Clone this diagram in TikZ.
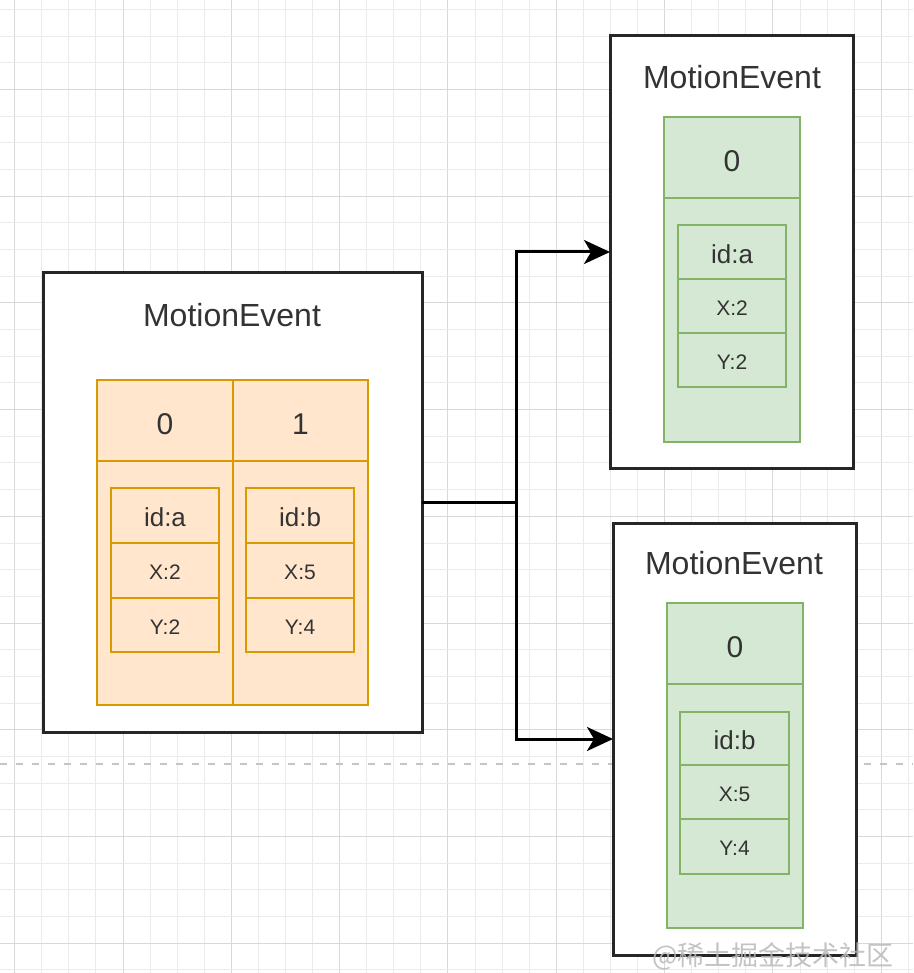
\documentclass[tikz,border=0pt]{standalone}
\usepackage{fontspec}
\setmainfont{Liberation Sans}
\newfontfamily\cjkfont{Noto Sans CJK SC}
\usetikzlibrary{arrows.meta}
\definecolor{orfill}{HTML}{FFE6CC}
\definecolor{ordraw}{HTML}{D79B00}
\definecolor{grfill}{HTML}{D5E8D4}
\definecolor{grdraw}{HTML}{82B366}
\definecolor{gridminor}{HTML}{EBEBEB}
\definecolor{gridmajor}{HTML}{D8D8D8}
\definecolor{dashgray}{HTML}{C4C4C4}
\newcommand{\dnshift}[2]{\raisebox{-#1pt}[\height][\depth]{#2}}
\begin{document}
\begin{tikzpicture}[x=1pt,y=-1pt,
  gminor/.style={draw=gridminor, line width=1pt},
  gmajor/.style={draw=gridmajor, line width=1pt},
  outerbox/.style={draw=black!85, line width=3pt, fill=white, anchor=north west, inner sep=0pt, outer sep=0pt},
  titletext/.style={inner sep=0pt, text=black!80, font=\fontsize{32}{38}\selectfont},
  orcell/.style={draw=ordraw, line width=2pt, fill=orfill, anchor=north west, inner sep=0pt, outer sep=0pt, text=black!80},
  grcell/.style={draw=grdraw, line width=2pt, fill=grfill, anchor=north west, inner sep=0pt, outer sep=0pt, text=black!80},
  headtext/.style={font=\fontsize{30}{36}\selectfont},
  idtext/.style={font=\fontsize{26}{31}\selectfont},
  valtext/.style={font=\fontsize{21}{25}\selectfont},
  conn/.style={draw=black, line width=3pt, -{Stealth[length=26pt,width=24pt,inset=7pt]}},
]
\useasboundingbox (0,0) rectangle (913,973);
\fill[white] (0,0) rectangle (913,973);
% grid
\foreach \k in {0,...,33} {
  \pgfmathsetmacro\gx{14.7+27.08*\k}
  \pgfmathtruncatemacro\gm{mod(\k,4)}
  \ifnum\gm=0 \draw[gmajor] (\gx,0) -- (\gx,973); \else \draw[gminor] (\gx,0) -- (\gx,973); \fi
}
\foreach \j in {0,...,36} {
  \pgfmathsetmacro\gy{9.6+26.67*\j}
  \pgfmathtruncatemacro\gm{mod(\j,4)}
  \ifnum\gm=3 \draw[gmajor] (0,\gy) -- (913,\gy); \else \draw[gminor] (0,\gy) -- (913,\gy); \fi
}
% dashed page line
\draw[dashgray, line width=1.3pt, dash pattern=on 7pt off 9pt] (0,764) -- (913,764);

% ---------- left MotionEvent ----------
\node[outerbox, minimum width=379pt, minimum height=459pt] (L) at (43,273) {};
\node[titletext] (Lt) at (232,315) {MotionEvent};
\node[orcell, minimum width=136pt, minimum height=244pt] (Lb0) at (97,461) {};
\node[orcell, minimum width=135pt, minimum height=244pt] (Lb1) at (233,461) {};
\node[orcell, headtext, minimum width=136pt, minimum height=81pt] (Lh0) at (97,380) {\dnshift{4}{0}};
\node[orcell, headtext, minimum width=135pt, minimum height=81pt] (Lh1) at (233,380) {\dnshift{4}{1}};
\node[orcell, idtext, minimum width=108pt, minimum height=55pt] (La1) at (111,488) {\dnshift{2}{id:a}};
\node[orcell, valtext, minimum width=108pt, minimum height=55pt] (La2) at (111,543) {\dnshift{2}{X:2}};
\node[orcell, valtext, minimum width=108pt, minimum height=54pt] (La3) at (111,598) {\dnshift{2}{Y:2}};
\node[orcell, idtext, minimum width=108pt, minimum height=55pt] (Lb1a) at (246,488) {\dnshift{2}{id:b}};
\node[orcell, valtext, minimum width=108pt, minimum height=55pt] (Lb1b) at (246,543) {\dnshift{2}{X:5}};
\node[orcell, valtext, minimum width=108pt, minimum height=54pt] (Lb1c) at (246,598) {\dnshift{2}{Y:4}};

% ---------- top right MotionEvent ----------
\node[outerbox, minimum width=243pt, minimum height=432pt] (TR) at (610,36) {};
\node[titletext] (TRt) at (732,77) {MotionEvent};
\node[grcell, minimum width=136pt, minimum height=244pt] (Tb) at (664,198) {};
\node[grcell, headtext, minimum width=136pt, minimum height=81pt] (Th) at (664,117) {\dnshift{4}{0}};
\node[grcell, idtext, minimum width=108pt, minimum height=54pt] (Ta1) at (678,225) {\dnshift{2}{id:a}};
\node[grcell, valtext, minimum width=108pt, minimum height=54pt] (Ta2) at (678,279) {\dnshift{2}{X:2}};
\node[grcell, valtext, minimum width=108pt, minimum height=54pt] (Ta3) at (678,333) {\dnshift{2}{Y:2}};

% ---------- bottom right MotionEvent ----------
\node[outerbox, minimum width=243pt, minimum height=432pt] (BR) at (613,523) {};
\node[titletext] (BRt) at (734,563) {MotionEvent};
\node[grcell, minimum width=136pt, minimum height=244pt] (Bb) at (667,684) {};
\node[grcell, headtext, minimum width=136pt, minimum height=81pt] (Bh) at (667,603) {\dnshift{4}{0}};
\node[grcell, idtext, minimum width=109pt, minimum height=53pt] (Ba1) at (680,712) {\dnshift{2}{id:b}};
\node[grcell, valtext, minimum width=109pt, minimum height=54pt] (Ba2) at (680,765) {\dnshift{2}{X:5}};
\node[grcell, valtext, minimum width=109pt, minimum height=55pt] (Ba3) at (680,819) {\dnshift{2}{Y:4}};

% ---------- connectors ----------
\coordinate (J) at (516,502.5);
\draw[conn] (L.east) -- (J) |- (TR.west);
\draw[conn] (L.east) -- (J) |- (BR.west);

% ---------- watermark ----------
\node[text=gray!55, opacity=0.85, inner sep=0pt, font=\cjkfont\fontsize{27}{32}\selectfont] (wm) at (773,956) {@稀土掘金技术社区};
\end{tikzpicture}
\end{document}
